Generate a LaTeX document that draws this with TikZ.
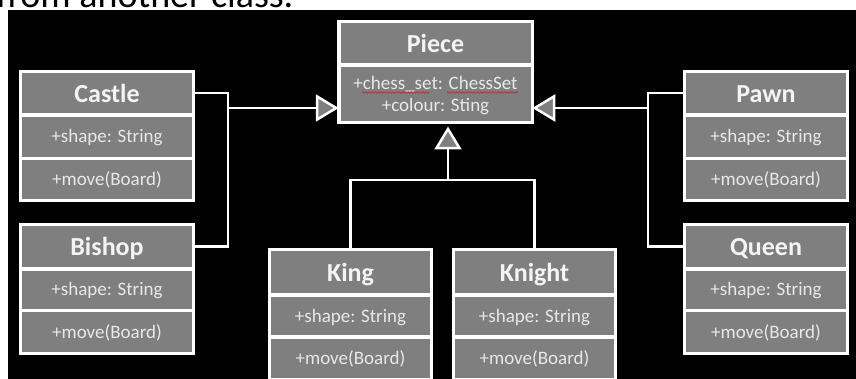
\documentclass[tikz,border=0pt]{standalone}
\usepackage{fontspec}
\setmainfont{Carlito}
\usetikzlibrary{arrows.meta,decorations.pathmorphing}
\definecolor{umlgray}{HTML}{7F7F7F}
\definecolor{hdtext}{HTML}{F4F4F4}
\definecolor{attext}{HTML}{E8E8E8}
\definecolor{spellred}{HTML}{C03030}
\begin{document}
\begin{tikzpicture}[x=1pt,y=-1pt,
  comp/.style={draw=white, fill=umlgray, line width=3.5pt, inner sep=0pt, outer sep=0pt,
    minimum width=#1},
  comp/.default=173pt,
  hdr/.style={comp=#1, text=hdtext, font=\fontsize{26}{26}\selectfont\bfseries,
    text height=18pt, text depth=0pt},
  hdr/.default=173pt,
  att/.style={comp=#1, text=attext, font=\fontsize{19}{22}\selectfont,
    text height=12pt, text depth=0pt},
  att/.default=173pt,
  line/.style={text=attext, font=\fontsize{19}{22}\selectfont, inner sep=0pt, anchor=base},
  conn/.style={draw=white, line width=2.5pt},
  inh/.style={conn, -{Triangle[length=23pt, width=27pt, fill=umlgray, line width=2.5pt]}},
  squig/.style={draw=spellred, line width=0.7pt, decorate,
    decoration={snake, amplitude=0.8pt, segment length=3pt}}]
\clip (0,0) rectangle (856,379);
\useasboundingbox (0,0) rectangle (856,379);
\fill[white] (0,0) rectangle (856,379);
\node[anchor=base west, inner sep=0pt, font=\fontsize{38}{38}\selectfont, text=black] (toptext) at (-4,8) {from another class.};
\fill[black] (8,10) rectangle (856,379);

% Piece
\node[hdr=193.5pt, minimum height=43.5pt] (pieceT) at (435.5,43.25) {Piece};
\node[comp=193.5pt, minimum height=57.5pt] (pieceA) at (435.5,93.75) {};
\node[line] (pieceL1) at (435.5,89.5) {+chess\_set: ChessSet};
\node[line] (pieceL2) at (435.5,111.5) {+colour: Sting};
\draw[squig] ([xshift=9pt,yshift=-3pt]pieceL1.base west) -- ([xshift=76pt,yshift=-3pt]pieceL1.base west);
\draw[squig] ([xshift=-71pt,yshift=-3pt]pieceL1.base east) -- ([yshift=-3pt]pieceL1.base east);

% Castle
\node[hdr, minimum height=43.5pt] (castleT) at (107,93.25) {Castle};
\node[att, minimum height=43.5pt] (castleA) at (107,136.75) {+shape: String};
\node[att, minimum height=42pt] (castleM) at (107,179.5) {+move(Board)};
% Bishop
\node[hdr, minimum height=44.5pt] (bishopT) at (107,246.75) {Bishop};
\node[att, minimum height=41.5pt] (bishopA) at (107,289.75) {+shape: String};
\node[att, minimum height=43pt] (bishopM) at (107,332) {+move(Board)};
% Pawn
\node[hdr=163pt, minimum height=43.5pt] (pawnT) at (766,93.25) {Pawn};
\node[att=163pt, minimum height=43.5pt] (pawnA) at (766,136.75) {+shape: String};
\node[att=163pt, minimum height=42pt] (pawnM) at (766,179.5) {+move(Board)};
% Queen
\node[hdr=163pt, minimum height=44.5pt] (queenT) at (766,246.75) {Queen};
\node[att=163pt, minimum height=41.5pt] (queenA) at (766,289.75) {+shape: String};
\node[att=163pt, minimum height=43pt] (queenM) at (766,332) {+move(Board)};
% King
\node[hdr=162pt, minimum height=45.5pt] (kingT) at (350.5,272.25) {King};
\node[att=162pt, minimum height=42pt] (kingA) at (350.5,316) {+shape: String};
\node[att=162pt, minimum height=43pt] (kingM) at (350.5,358.5) {+move(Board)};
% Knight
\node[hdr=162pt, minimum height=45.5pt] (knightT) at (534.5,272.25) {Knight};
\node[att=162pt, minimum height=42pt] (knightA) at (534.5,316) {+shape: String};
\node[att=162pt, minimum height=43pt] (knightM) at (534.5,358.5) {+move(Board)};

% junctions
\coordinate (jL) at (228,108);
\coordinate (jR) at (648,108);
\coordinate (jB) at (448,180);
\coordinate (pB) at (448,126.5);

\draw[conn] (castleT.east) -| (jL) |- (bishopT.east);
\draw[inh] (jL) -- (pieceA.west |- jL);
\draw[conn] (pawnT.west) -| (jR) |- (queenT.west);
\draw[inh] (jR) -- (pieceA.east |- jR);
\draw[conn] (kingT.north) |- (jB) -| (knightT.north);
\draw[inh] (jB) -- (pB);
\end{tikzpicture}
\end{document}
